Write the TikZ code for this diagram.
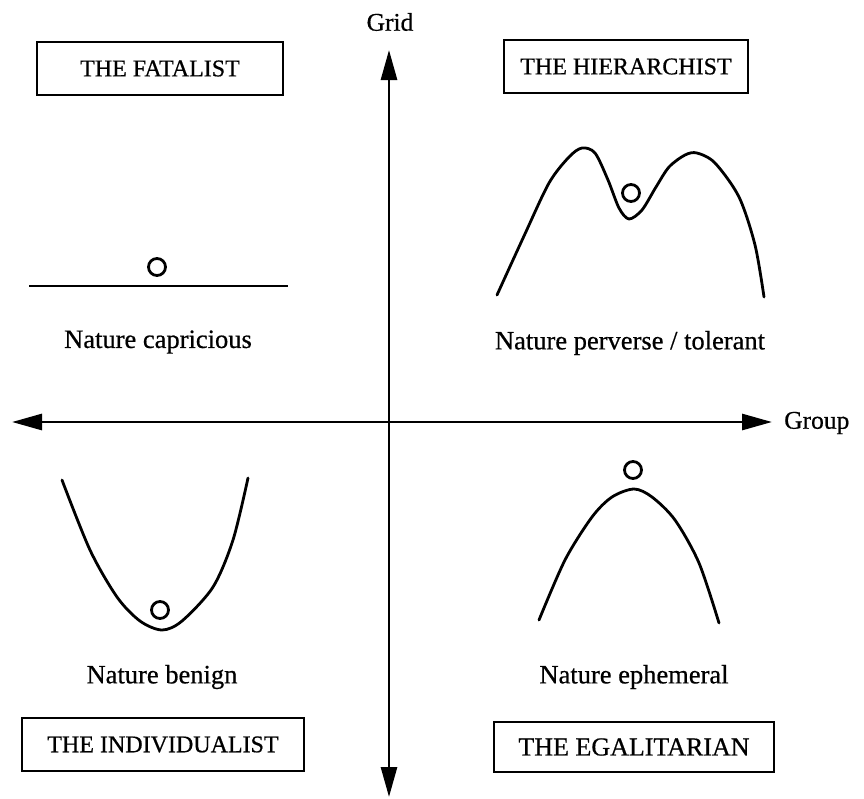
\documentclass[tikz,border=0pt]{standalone}
\usepackage{fontspec}
\setmainfont{Liberation Serif}[FakeBold=0.6]
\usetikzlibrary{arrows.meta}
\begin{document}
\begin{tikzpicture}[x=1pt,y=-1pt,
  axis/.style={line width=2.8pt,{Triangle[length=30pt,width=16pt]}-{Triangle[length=30pt,width=16pt]}},
  curve/.style={line width=2.8pt,line join=round,line cap=round},
  boxed/.style={draw,line width=1.8pt,inner sep=0pt,font=\fontsize{24}{28}\selectfont},
  lab/.style={font=\fontsize{26.5}{30}\selectfont,inner sep=0pt},
  ball/.style={draw,circle,line width=2.8pt,minimum size=17pt,inner sep=0pt}]
\useasboundingbox (0,0) rectangle (864,798);
% axes
\coordinate (vtop) at (389,50);
\coordinate (vbot) at (389,797);
\coordinate (hleft) at (12,422);
\coordinate (hright) at (772,422);
\draw[axis] (vbot) -- (vtop);
\draw[axis] (hleft) -- (hright);
\node[lab,font=\fontsize{25.5}{30}\selectfont] (grid) at (390,22) {Grid};
\node[lab,font=\fontsize{25.5}{30}\selectfont,anchor=west] (group) at (784,423) {Group};
% boxes
\node[boxed,minimum width=246pt,minimum height=53pt] (fat) at (160,68.5) {THE FATALIST};
\node[boxed,minimum width=244pt,minimum height=53pt] (hier) at (626,66.5) {THE HIERARCHIST};
\node[boxed,minimum width=282pt,minimum height=53pt] (ind) at (163,744.5) {THE INDIVIDUALIST};
\node[boxed,minimum width=280pt,minimum height=50pt,font=\fontsize{26}{30}\selectfont] (ega) at (634,747) {THE EGALITARIAN};
% labels
\node[lab] (lcap) at (158,342) {Nature capricious};
\node[lab] (lper) at (630,343) {Nature perverse / tolerant};
\node[lab] (lben) at (162,677) {Nature benign};
\node[lab] (leph) at (634,677) {Nature ephemeral};
% fatalist: flat line
\draw[curve,line cap=butt] (29,286) -- (288,286);
\node[ball] (b1) at (157,267) {};
% hierarchist
\draw[curve] plot[smooth,tension=0.5] coordinates {(497,295) (524,236) (549,183) (569,157) (582,148) (595,153) (608,180) (619,208) (629,219) (642,210) (656,187) (669,167) (685,155) (697,153) (715,163) (739,197) (755,245) (764,297)};
\node[ball] (b2) at (631,193) {};
% individualist: bowl
\draw[curve] plot[smooth,tension=0.5] coordinates {(62,480) (90,550) (117,597) (140,621) (162,630) (182,621) (213,587) (233,540) (248,478)};
\node[ball] (b3) at (160,610) {};
% egalitarian: dome
\draw[curve] plot[smooth,tension=0.5] coordinates {(539,620) (565,560) (592,517) (612,497) (634,489) (652,497) (675,520) (699,563) (719,623)};
\node[ball] (b4) at (633,470) {};
\end{tikzpicture}
\end{document}
